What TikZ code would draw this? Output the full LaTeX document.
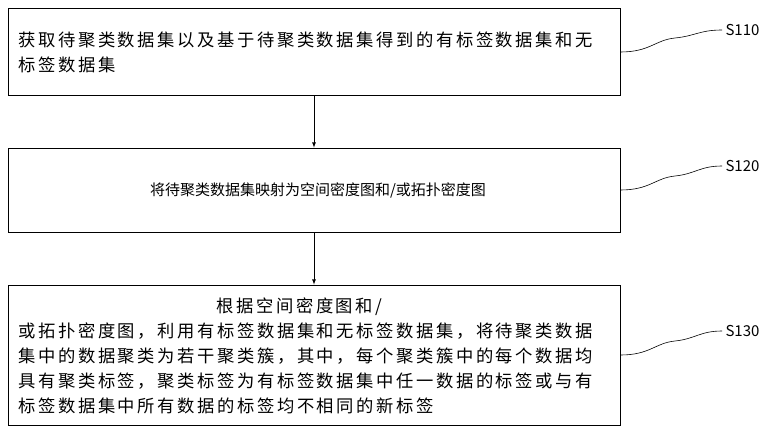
\documentclass[tikz,border=0pt]{standalone}
\usepackage{fontspec}
\setmainfont{Noto Sans CJK SC}
\newfontfamily\wide[LetterSpace=15]{Noto Sans CJK SC}
\usetikzlibrary{positioning}
\tikzset{
  stepbox/.style={draw, line width=0.8pt, minimum width=612pt, inner sep=0pt},
  txt/.style={font=\wide\fontsize{17.3}{25}\selectfont, align=left, anchor=west},
  lbl/.style={font=\fontsize{15}{18}\selectfont, anchor=west},
  lead/.style={line width=0.6pt},
}
\begin{document}
\begin{tikzpicture}[x=1pt,y=-1pt]
  \useasboundingbox (0,0) rectangle (782,431);
  % boxes
  \node[stepbox, minimum height=87pt] (b1) at (314,51.5) {};
  \node[stepbox, minimum height=84pt] (b2) at (314,190) {};
  \node[stepbox, minimum height=140pt] (b3) at (314,355) {};
  % texts
  \node[txt] (t1) at (15,52) {获取待聚类数据集以及基于待聚类数据集得到的有标签数据集和无\\标签数据集};
  \node[font=\fontsize{15}{22}\selectfont] (t2) at (318,190) {将待聚类数据集映射为空间密度图和/或拓扑密度图};
  \node[txt] (t3) at (15,356) {\hspace*{198pt}根据空间密度图和/\\或拓扑密度图，利用有标签数据集和无标签数据集，将待聚类数据\\集中的数据聚类为若干聚类簇，其中，每个聚类簇中的每个数据均\\具有聚类标签，聚类标签为有标签数据集中任一数据的标签或与有\\标签数据集中所有数据的标签均不相同的新标签};
  % arrows
  \draw[-latex, line width=0.8pt] (b1.south) -- (b2.north);
  \draw[-latex, line width=0.8pt] (b2.south) -- (b3.north);
  % step labels
  \node[lbl] (s1) at (722,30) {S110};
  \node[lbl] (s2) at (722,166) {S120};
  \node[lbl] (s3) at (722,331) {S130};
  \draw[lead] (b1.east |- 0,52) .. controls (650,52) and (655,40) .. (675,38) .. controls (695,36) and (700,30) .. (s1.west);
  \draw[lead] (b2.east |- 0,190) .. controls (650,190) and (655,178) .. (675,176) .. controls (695,174) and (700,166) .. (s2.west);
  \draw[lead] (b3.east |- 0,355) .. controls (650,355) and (655,343) .. (675,341) .. controls (695,339) and (700,331) .. (s3.west);
\end{tikzpicture}
\end{document}
